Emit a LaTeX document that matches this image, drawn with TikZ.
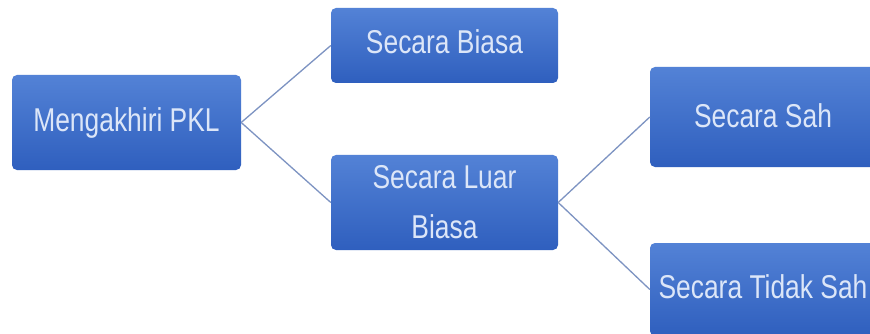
\documentclass[tikz,border=0pt]{standalone}
\usepackage{fontspec}
\setmainfont[FakeStretch=0.8]{Liberation Sans}
\definecolor{boxtop}{HTML}{5382D6}
\definecolor{boxbot}{HTML}{2F5FBE}
\definecolor{txt}{HTML}{DCE6F8}
\definecolor{connc}{HTML}{7D93C2}
\begin{document}
\begin{tikzpicture}[x=1pt,y=-1pt,
  box/.style={rectangle, rounded corners=5pt, top color=boxtop, bottom color=boxbot,
    draw=none, text=txt, font=\fontsize{33}{50}\selectfont, inner sep=0pt, align=center},
  conn/.style={draw=connc, line width=1.3pt}]
\fill[white] (0,0) rectangle (870,334);
\useasboundingbox (0,0) rectangle (870,334);
\clip (0,0) rectangle (870,334);
\node[box, minimum width=229pt, minimum height=95pt] (A) at (126.5,122.5) {Mengakhiri PKL};
\node[box, minimum width=227pt, minimum height=75pt] (B) at (444.5,45.5) {\raisebox{8pt}{Secara Biasa}};
\node[box, minimum width=227pt, minimum height=95pt] (C) at (444.5,202.5) {Secara Luar\\Biasa};
\node[box, minimum width=226pt, minimum height=100pt] (D) at (763,117) {\raisebox{3pt}{Secara Sah}};
\node[box, minimum width=226pt, minimum height=93pt] (E) at (763,289.5) {\raisebox{5pt}{Secara Tidak Sah}};
\draw[conn] (A.east) -- (B.west);
\draw[conn] (A.east) -- (C.west);
\draw[conn] (C.east) -- (D.west);
\draw[conn] (C.east) -- (E.west);
\end{tikzpicture}
\end{document}
